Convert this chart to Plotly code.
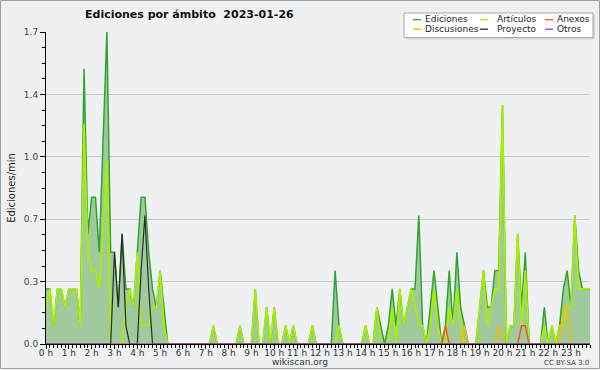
import plotly.graph_objects as go

# 10-minute bins over the day (hours)
bin_minutes = 10
n_bins = 144
hours = [i * bin_minutes / 60 for i in range(n_bins)]

hour_ticks = list(range(24))
hour_labels = [f"{h} h" for h in hour_ticks]

y_tickvals = [0, 0.34, 0.68, 1.02, 1.36, 1.7]
y_ticktext = ["0.0", "0.3", "0.7", "1.0", "1.4", "1.7"]

# edits per minute, one row per hour (6 bins of 10 minutes)
ediciones = [
    0.3, 0.3, 0.1, 0.3, 0.3, 0.2,
    0.3, 0.3, 0.3, 0.1, 1.5, 0.6,
    0.8, 0.8, 0.5, 1.1, 1.7, 0.5,
    0.5, 0.2, 0.6, 0.3, 0.3, 0.2,
    0.5, 0.8, 0.8, 0.5, 0.3, 0.2,
    0.4, 0.2, 0, 0, 0, 0,
    0, 0, 0, 0, 0, 0,
    0, 0, 0.1, 0, 0, 0,
    0, 0, 0, 0.1, 0, 0,
    0, 0.3, 0, 0, 0.2, 0,
    0.2, 0, 0, 0.1, 0, 0.1,
    0, 0, 0, 0, 0.1, 0,
    0, 0, 0, 0, 0.4, 0.1,
    0, 0, 0, 0, 0, 0,
    0.1, 0, 0, 0.2, 0.1, 0,
    0.1, 0.3, 0.1, 0.3, 0.1, 0.2,
    0.3, 0.3, 0.7, 0.1, 0, 0.2,
    0.4, 0.2, 0, 0.1, 0.4, 0.1,
    0.5, 0.2, 0.1, 0, 0, 0,
    0.2, 0.4, 0.2, 0.2, 0.4, 0.4,
    1.3, 0, 0.1, 0.1, 0.6, 0.2,
    0.5, 0, 0, 0, 0, 0.2,
    0, 0.1, 0, 0.1, 0.3, 0.4,
    0.2, 0.7, 0.4, 0.3, 0.3, 0.3,
]

articulos = [
    0.2, 0.3, 0.1, 0.3, 0.3, 0.2,
    0.3, 0.3, 0.3, 0.1, 1.2, 0.5,
    0.4, 0.4, 0.3, 0.6, 1.0, 0,
    0, 0, 0, 0.2, 0.3, 0.2,
    0.5, 0.1, 0.1, 0.1, 0.2, 0.2,
    0.4, 0.1, 0, 0, 0, 0,
    0, 0, 0, 0, 0, 0,
    0, 0, 0.1, 0, 0, 0,
    0, 0, 0, 0.1, 0, 0,
    0, 0.3, 0, 0, 0.2, 0,
    0.2, 0, 0, 0.1, 0, 0.1,
    0, 0, 0, 0, 0.1, 0,
    0, 0, 0, 0, 0, 0.1,
    0, 0, 0, 0, 0, 0,
    0.1, 0, 0, 0.2, 0, 0,
    0, 0.2, 0, 0.3, 0.1, 0.2,
    0.3, 0.2, 0.1, 0.1, 0, 0.1,
    0.3, 0.1, 0, 0, 0.2, 0.1,
    0.3, 0.1, 0, 0, 0, 0,
    0.2, 0.4, 0.1, 0.2, 0.3, 0.3,
    1.3, 0, 0.1, 0.1, 0.6, 0.1,
    0.4, 0, 0, 0, 0, 0.1,
    0, 0.1, 0, 0.1, 0.1, 0.2,
    0.2, 0.7, 0.3, 0.3, 0.3, 0.3,
]

anexos = [
    0, 0, 0, 0, 0, 0,
    0, 0, 0, 0, 0, 0,
    0, 0, 0, 0, 0, 0,
    0, 0, 0, 0, 0, 0,
    0, 0, 0, 0, 0, 0,
    0, 0, 0, 0, 0, 0,
    0, 0, 0, 0, 0, 0,
    0, 0, 0, 0, 0, 0,
    0, 0, 0, 0, 0, 0,
    0, 0, 0, 0, 0, 0,
    0, 0, 0, 0, 0, 0,
    0, 0, 0, 0, 0, 0,
    0, 0, 0, 0, 0, 0,
    0, 0, 0, 0, 0, 0,
    0, 0, 0, 0, 0, 0,
    0, 0, 0, 0, 0, 0,
    0, 0, 0, 0, 0, 0,
    0, 0, 0, 0.1, 0, 0,
    0, 0, 0, 0, 0, 0,
    0, 0, 0, 0, 0, 0,
    0, 0, 0, 0, 0, 0.1,
    0.1, 0, 0, 0, 0, 0,
    0, 0, 0, 0, 0, 0,
    0, 0, 0, 0, 0, 0,
]

discusiones = [
    0, 0, 0, 0, 0, 0,
    0, 0, 0, 0, 0, 0,
    0, 0, 0, 0, 0, 0,
    0, 0, 0, 0, 0, 0,
    0, 0, 0, 0, 0, 0,
    0, 0, 0, 0, 0, 0,
    0, 0, 0, 0, 0, 0,
    0, 0, 0, 0, 0, 0,
    0, 0, 0, 0, 0, 0,
    0, 0, 0, 0, 0, 0,
    0, 0, 0, 0, 0, 0,
    0, 0, 0, 0, 0, 0,
    0, 0, 0, 0, 0, 0,
    0, 0, 0, 0, 0, 0,
    0, 0, 0, 0, 0, 0,
    0, 0, 0, 0, 0, 0,
    0, 0, 0, 0, 0, 0,
    0, 0, 0, 0, 0, 0,
    0, 0, 0.1, 0, 0, 0,
    0, 0, 0, 0, 0, 0.1,
    0, 0, 0, 0, 0, 0,
    0, 0, 0, 0, 0, 0,
    0, 0, 0, 0, 0.2, 0.2,
    0, 0, 0, 0, 0, 0,
]

proyecto = [
    0, 0, 0, 0, 0, 0,
    0, 0, 0, 0, 0, 0,
    0, 0, 0, 0, 0, 0,
    0.5, 0.2, 0.6, 0.1, 0, 0,
    0, 0.4, 0.7, 0.3, 0, 0,
    0, 0, 0, 0, 0, 0,
    0, 0, 0, 0, 0, 0,
    0, 0, 0, 0, 0, 0,
    0, 0, 0, 0, 0, 0,
    0, 0, 0, 0, 0, 0,
    0, 0, 0, 0, 0, 0,
    0, 0, 0, 0, 0, 0,
    0, 0, 0, 0, 0, 0,
    0, 0, 0, 0, 0, 0,
    0, 0, 0, 0, 0, 0,
    0, 0, 0, 0, 0, 0,
    0, 0, 0, 0, 0, 0,
    0, 0, 0, 0, 0, 0,
    0, 0, 0, 0, 0, 0,
    0, 0, 0, 0, 0, 0,
    0, 0, 0, 0, 0, 0,
    0, 0, 0, 0, 0, 0,
    0, 0, 0, 0, 0, 0,
    0, 0, 0, 0, 0, 0,
]

otros = [
    0, 0, 0, 0, 0, 0, 0, 0, 0, 0, 0, 0,
    0, 0, 0, 0, 0, 0, 0, 0, 0, 0, 0, 0,
    0, 0, 0, 0, 0, 0, 0, 0, 0, 0, 0, 0,
    0, 0, 0, 0, 0, 0, 0, 0, 0, 0, 0, 0,
    0, 0, 0, 0, 0, 0, 0, 0, 0, 0, 0, 0,
    0, 0, 0, 0, 0, 0, 0, 0, 0, 0, 0, 0,
    0, 0, 0, 0, 0, 0, 0, 0, 0, 0, 0, 0,
    0, 0, 0, 0, 0, 0, 0, 0, 0, 0, 0, 0,
    0, 0, 0, 0, 0, 0, 0, 0, 0, 0, 0, 0,
    0, 0, 0, 0, 0, 0, 0, 0, 0, 0, 0, 0,
    0, 0, 0, 0, 0, 0, 0, 0, 0, 0, 0, 0,
    0, 0, 0, 0, 0, 0, 0, 0, 0, 0, 0, 0,
]

series = [
    ("Ediciones", ediciones, "#2fa52f", 1.5),
    ("Artículos", articulos, "#aaee00", 1.7),
    ("Anexos", anexos, "#f05a1e", 1.5),
    ("Discusiones", discusiones, "#f7b800", 1.5),
    ("Proyecto", proyecto, "#2a2a2a", 1.2),
    ("Otros", otros, "#9933ff", 1.2),
]

FONT = "DejaVu Sans"
W, H = 600, 370
L, R, T, B = 46, 10, 32, 26
PW, PH = W - L - R, H - T - B


def px(x):
    return (x - L) / PW


def py(y):
    return (H - B - y) / PH


fig = go.Figure()
for name, vals, color, width in series:
    kw = {}
    if name == "Ediciones":
        kw = dict(fill="tozeroy", fillcolor="#a0ca9e")
    fig.add_trace(go.Scatter(
        x=hours, y=vals, name=name, mode="lines",
        line=dict(color=color, width=width), showlegend=False, **kw))

shapes = [
    # outer frame
    dict(type="rect", xref="paper", yref="paper", x0=px(0.5), x1=px(599.5),
         y0=py(368.5), y1=py(0.5), line=dict(color="#a0a0a0", width=1), layer="below"),
    # legend shadow + box
    dict(type="rect", xref="paper", yref="paper", x0=px(406), x1=px(595),
         y0=py(39.5), y1=py(15), fillcolor="#d4d4d4", line=dict(width=0), layer="above"),
    dict(type="rect", xref="paper", yref="paper", x0=px(404), x1=px(593),
         y0=py(37.5), y1=py(13), fillcolor="white", line=dict(color="#a8a8a8", width=1), layer="above"),
]
annotations = [
    dict(text="wikiscan.org", x=px(300), y=py(362), xref="paper", yref="paper",
         xanchor="center", yanchor="middle", showarrow=False, borderpad=0,
         font=dict(family=FONT, size=9, color="#333")),
    dict(text="CC BY-SA 3.0", x=px(590), y=py(362.5), xref="paper", yref="paper",
         xanchor="right", yanchor="middle", showarrow=False, borderpad=0,
         font=dict(family=FONT, size=7, color="#444")),
]

legend_cols = [(413, 421, 424), (480, 488, 496), (545, 553, 555.5)]
legend_rows = [19.7, 29.2]
legend_order = [[0, 1, 2], [3, 4, 5]]
for r, row in enumerate(legend_order):
    for c, idx in enumerate(row):
        name, _, color, _ = series[idx]
        lx0, lx1, tx = legend_cols[c]
        yy = legend_rows[r]
        shapes.append(dict(type="line", xref="paper", yref="paper",
                           x0=px(lx0), x1=px(lx1), y0=py(yy), y1=py(yy),
                           line=dict(color=color, width=1.3), layer="above"))
        annotations.append(dict(text=name, x=px(tx), y=py(yy - 0.3), xref="paper", yref="paper",
                                xanchor="left", yanchor="middle", showarrow=False, borderpad=0,
                                font=dict(family=FONT, size=9, color="#222")))

fig.update_layout(
    width=W, height=H,
    margin=dict(l=L, r=R, t=T, b=B, autoexpand=False),
    paper_bgcolor="#eff0f1", plot_bgcolor="#eff0f1",
    font=dict(family=FONT, size=9, color="#333"),
    title=dict(text="Ediciones por ámbito\u00a0 2023-01-26", x=85 / W, xanchor="left",
               xref="container", y=1 - 14 / H, yanchor="middle",
               font=dict(family=FONT, size=11, color="#111", weight="bold")),
    shapes=shapes, annotations=annotations,
    showlegend=False,
    xaxis=dict(range=[0, hours[-1]], tickmode="array", tickvals=hour_ticks, ticktext=hour_labels,
               ticks="outside", ticklen=4, tickwidth=1, tickcolor="black",
               showline=True, linecolor="black", linewidth=1, showgrid=False, zeroline=False,
               tickfont=dict(family=FONT, size=9, color="#333"), ticklabelstandoff=-4,
               minor=dict(tickmode="linear", tick0=0, dtick=bin_minutes / 60, ticks="outside",
                          ticklen=3, tickcolor="black", showgrid=False),
               fixedrange=True),
    yaxis=dict(range=[0, 1.7], tickmode="array", tickvals=y_tickvals, ticktext=y_ticktext,
               ticks="outside", ticklen=5, tickwidth=1, tickcolor="black",
               showline=True, linecolor="black", linewidth=1,
               showgrid=True, gridcolor="#c9c9c9", gridwidth=1, zeroline=False,
               tickfont=dict(family=FONT, size=9, color="#444"),
               minor=dict(tickmode="linear", tick0=0, dtick=0.085, ticks="outside",
                          ticklen=3, tickcolor="black", showgrid=False),
               title=dict(text="Ediciones/min", standoff=6,
                          font=dict(family=FONT, size=10, color="#222")),
               fixedrange=True),
)

fig.write_html("out.html", config={"displayModeBar": False},
               post_script="document.body.style.margin='0';")
